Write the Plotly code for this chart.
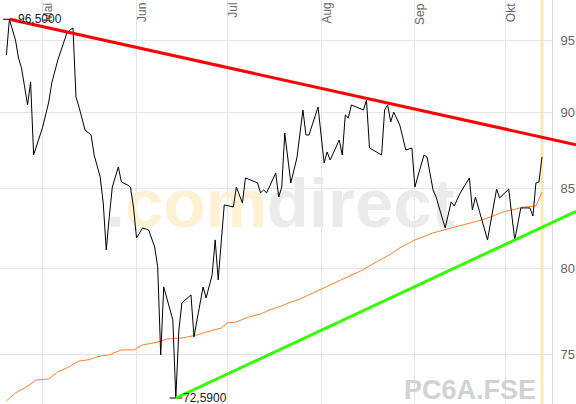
import numpy as np
import pandas as pd
import plotly.graph_objects as go

# daily close
PRICE_DATES = [
    "2013-04-19", "2013-04-20", "2013-04-22", "2013-04-23", "2013-04-24", "2013-04-25",
    "2013-04-26", "2013-04-27", "2013-04-28", "2013-05-01", "2013-05-03", "2013-05-04",
    "2013-05-06", "2013-05-08", "2013-05-09", "2013-05-10", "2013-05-11", "2013-05-12",
    "2013-05-13", "2013-05-15", "2013-05-17", "2013-05-18", "2013-05-19", "2013-05-20",
    "2013-05-21", "2013-05-22", "2013-05-23", "2013-05-24", "2013-05-26", "2013-05-27",
    "2013-05-29", "2013-05-30", "2013-05-31", "2013-06-01", "2013-06-03", "2013-06-05",
    "2013-06-07", "2013-06-08", "2013-06-09", "2013-06-10", "2013-06-13", "2013-06-14",
    "2013-06-15", "2013-06-16", "2013-06-19", "2013-06-20", "2013-06-21", "2013-06-23",
    "2013-06-24", "2013-06-26", "2013-06-27", "2013-06-28", "2013-06-29", "2013-06-30",
    "2013-07-03", "2013-07-04", "2013-07-06", "2013-07-07", "2013-07-11", "2013-07-12",
    "2013-07-13", "2013-07-14", "2013-07-17", "2013-07-18", "2013-07-19", "2013-07-20",
    "2013-07-21", "2013-07-22", "2013-07-24", "2013-07-26", "2013-07-27", "2013-07-28",
    "2013-07-31", "2013-08-02", "2013-08-03", "2013-08-04", "2013-08-07", "2013-08-08",
    "2013-08-09", "2013-08-10", "2013-08-11", "2013-08-15", "2013-08-16", "2013-08-17",
    "2013-08-21", "2013-08-22", "2013-08-23", "2013-08-24", "2013-08-25", "2013-08-27",
    "2013-08-29", "2013-08-31", "2013-09-01", "2013-09-04", "2013-09-05", "2013-09-07",
    "2013-09-08", "2013-09-11", "2013-09-13", "2013-09-14", "2013-09-16", "2013-09-19",
    "2013-09-20", "2013-09-21", "2013-09-25", "2013-09-28", "2013-09-29", "2013-10-02",
    "2013-10-04", "2013-10-06", "2013-10-09", "2013-10-10", "2013-10-11", "2013-10-12",
    "2013-10-13",
]
PRICE_VALUES = [
    93.94, 96.50, 95.01, 93.73, 93.03, 91.71,
    90.48, 92.06, 87.14, 88.99, 90.68, 91.99,
    93.59, 94.87, 95.51, 95.73, 95.87, 91.02,
    90.34, 88.79, 88.46, 87.14, 86.36, 85.71,
    84.05, 81.14, 83.17, 85.07, 86.36, 85.39,
    85.20, 85.07, 83.80, 81.87, 82.49, 82.37,
    81.32, 80.11, 74.98, 78.91, 76.98, 72.59,
    76.40, 77.97, 78.44, 76.00, 76.98, 78.91,
    78.26, 79.63, 81.75, 79.33, 81.63, 83.93,
    83.80, 85.07, 84.05, 85.65, 85.33, 84.69,
    84.88, 84.69, 85.97, 84.43, 85.07, 88.59,
    86.94, 85.33, 86.94, 90.14, 88.46, 88.46,
    90.34, 86.62, 87.34, 86.81, 88.13, 87.14,
    89.80, 89.60, 90.48, 90.14, 90.82, 87.60,
    87.14, 90.14, 90.48, 89.33, 90.00, 89.13,
    87.47, 87.60, 85.07, 87.14, 87.01, 84.88,
    84.43, 82.49, 84.12, 83.86, 84.69, 85.65,
    83.61, 84.43, 81.75, 84.94, 84.37, 84.94,
    81.75, 83.74, 83.74, 83.24, 85.33, 85.39,
    87.01,
]

# moving average (orange)
MA_DATES = [
    "2013-04-19", "2013-04-22", "2013-04-25", "2013-04-29", "2013-05-03", "2013-05-06",
    "2013-05-09", "2013-05-13", "2013-05-16", "2013-05-20", "2013-05-23", "2013-05-27",
    "2013-05-31", "2013-06-03", "2013-06-08", "2013-06-11", "2013-06-16", "2013-06-21",
    "2013-06-24", "2013-06-29", "2013-07-01", "2013-07-04", "2013-07-08", "2013-07-12",
    "2013-07-15", "2013-07-18", "2013-07-22", "2013-07-25", "2013-08-04", "2013-08-14",
    "2013-08-24", "2013-08-27", "2013-09-01", "2013-09-07", "2013-09-13", "2013-09-17",
    "2013-09-23", "2013-09-26", "2013-09-30", "2013-10-03", "2013-10-07", "2013-10-11",
    "2013-10-12", "2013-10-13",
]
MA_VALUES = [
    72.43, 72.87, 73.14, 73.58, 73.64, 74.03,
    74.25, 74.64, 74.70, 74.92, 74.98, 75.26,
    75.26, 75.54, 75.71, 75.88, 75.94, 76.11,
    76.28, 76.51, 76.80, 76.86, 77.15, 77.32,
    77.56, 77.73, 78.02, 78.20, 79.03, 79.86,
    80.89, 81.26, 81.75, 82.18, 82.49, 82.67,
    82.98, 83.17, 83.48, 83.61, 83.80, 83.86,
    84.31, 84.75,
]

HIGH_DATE, HIGH_VALUE = "2013-04-20", 96.50
LOW_DATE, LOW_VALUE = "2013-06-14", 72.59

# trend lines, two touch points each
RED_DATES = ["2013-04-20", "2013-08-16"]
RED_VALUES = [96.50, 90.93]
GREEN_DATES = ["2013-06-14", "2013-10-04"]
GREEN_VALUES = [72.59, 81.75]

MONTH_STARTS = ["2013-05-01", "2013-06-01", "2013-07-01", "2013-08-01", "2013-09-01", "2013-10-01"]
MONTH_LABELS = ["Mai", "Jun", "Jul", "Aug", "Sep", "Okt"]
Y_TICKS = [75, 80, 85, 90, 95]
SYMBOL = "PC6A.FSE"

X_START = pd.Timestamp("2013-04-16 21:20")
X_END = pd.Timestamp("2013-10-16 07:26")
PLOT_FRAC = 552 / 576
X2_END = X_START + (X_END - X_START) / PLOT_FRAC
Y_RANGE = [1.85892, 1.99082]

FONT = "Liberation Sans, Arial, sans-serif"


def extend_trend(dates, values, end):
    """Straight line in (time, log price), extended to the right edge."""
    t = pd.to_datetime(dates)
    days = (t - t[0]) / pd.Timedelta(days=1)
    lv = np.log10(values)
    slope = (lv[1] - lv[0]) / (days[1] - days[0])
    t_end = (end - t[0]) / pd.Timedelta(days=1)
    return [t[0], end], [values[0], 10 ** (lv[0] + slope * t_end)]


fig = go.Figure()

# watermark under everything
fig.add_trace(
    go.Scatter(
        x=[pd.Timestamp("2013-07-18 12:00")],
        y=[83.6],
        mode="text",
        text=["<b>.<span style='color:#FFF1D4'>com</span>direct</b>"],
        textposition="middle center",
        textfont=dict(family=FONT, size=69, color="#EBEBEB"),
        hoverinfo="skip",
    )
)

fig.add_trace(
    go.Scatter(
        x=MA_DATES, y=MA_VALUES, mode="lines",
        line=dict(color="#FF7F2A", width=1), hoverinfo="skip",
    )
)
fig.add_trace(
    go.Scatter(
        x=PRICE_DATES, y=PRICE_VALUES, mode="lines",
        line=dict(color="black", width=1),
    )
)
fig.add_trace(
    go.Scatter(
        x=[HIGH_DATE, LOW_DATE], y=[HIGH_VALUE, LOW_VALUE], mode="markers",
        marker=dict(symbol="line-ew", size=9, line=dict(color="black", width=1)),
        hoverinfo="skip",
    )
)

# trend lines on a full-width overlay so they can run past the axis
for dates, values, color in [(RED_DATES, RED_VALUES, "#FF0000"), (GREEN_DATES, GREEN_VALUES, "#33FF00")]:
    tx, ty = extend_trend(dates, values, X2_END)
    fig.add_trace(
        go.Scatter(
            x=tx, y=ty, mode="lines", xaxis="x2", yaxis="y2",
            line=dict(color=color, width=3), hoverinfo="skip",
        )
    )

annotations = []
for d, label in zip(MONTH_STARTS, MONTH_LABELS):
    annotations.append(
        dict(
            x=d, y=1, xref="x", yref="paper", text=label, showarrow=False,
            textangle=-90, xanchor="left", yanchor="top", xshift=-4, yshift=-1,
            font=dict(family=FONT, size=12, color="#666666"),
        )
    )
for d, v, shift in [(HIGH_DATE, HIGH_VALUE, 7), (LOW_DATE, LOW_VALUE, 5)]:
    annotations.append(
        dict(
            x=d, y=np.log10(v), xref="x", yref="y",
            text=f"{v:.4f}".replace(".", ","), showarrow=False,
            xanchor="left", yanchor="middle", xshift=shift,
            font=dict(family=FONT, size=12, color="#222222"),
        )
    )
annotations.append(
    dict(
        x=538 / 576, y=0, xref="paper", yref="paper", text=f"<b>{SYMBOL}</b>",
        showarrow=False, xanchor="right", yanchor="bottom", yshift=-3,
        font=dict(family=FONT, size=27, color="#D2D2D2"),
    )
)

fig.update_layout(
    width=576,
    height=404,
    margin=dict(l=0, r=0, t=0, b=0),
    paper_bgcolor="white",
    plot_bgcolor="rgba(0,0,0,0)",
    showlegend=False,
    xaxis=dict(
        type="date", domain=[0, PLOT_FRAC], range=[X_START, X_END],
        tickvals=MONTH_STARTS, showticklabels=False, ticks="",
        showgrid=True, gridcolor="#E6E6E6", gridwidth=1,
        zeroline=False, showline=False, fixedrange=True,
    ),
    yaxis=dict(
        type="log", range=Y_RANGE, side="right", anchor="x",
        tickvals=Y_TICKS, ticktext=[str(v) for v in Y_TICKS],
        ticks="", ticklabelstandoff=5,
        tickfont=dict(family=FONT, size=13, color="#666666"),
        showgrid=True, gridcolor="#E6E6E6", gridwidth=1,
        showline=True, linecolor="#DADADA", linewidth=1,
        zeroline=False, automargin=False, fixedrange=True,
    ),
    xaxis2=dict(
        type="date", domain=[0, 1], range=[X_START, X2_END], anchor="y2",
        visible=False, showgrid=False, fixedrange=True,
    ),
    yaxis2=dict(
        type="log", domain=[0, 1], range=Y_RANGE, anchor="x2",
        visible=False, showgrid=False, fixedrange=True,
    ),
    shapes=[
        dict(
            type="line", xref="x", yref="paper",
            x0=PRICE_DATES[-1], x1=PRICE_DATES[-1], y0=0, y1=1,
            line=dict(color="#FCEBB0", width=3), layer="below",
        )
    ],
    annotations=annotations,
)

# the page's default body margin would shift the figure by 8px
fig.write_html(
    "out.html",
    config={"displayModeBar": False},
    post_script="document.body.style.margin='0';document.body.style.padding='0';",
)
